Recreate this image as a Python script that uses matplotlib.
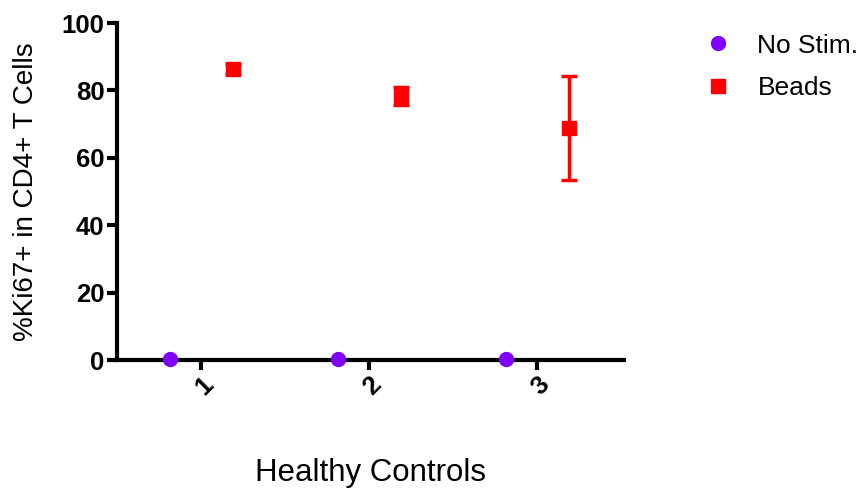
import numpy as np
import matplotlib.pyplot as plt
from matplotlib.lines import Line2D

plt.rcParams['font.family'] = ['Liberation Sans', 'DejaVu Sans']

# группы и значения
groups = [1, 2, 3]
group_labels = ['1', '2', '3']
nostim_mean = [0.3, 0.3, 0.3]
beads_mean = [86.3, 78.3, 68.8]
beads_err = [1.5, 2.6, 15.4]

fig = plt.figure(figsize=(8.63, 4.9), dpi=100)
ax = fig.add_axes([0.1356, 0.265, 0.588, 0.688])

x = np.array(groups, dtype=float)
ax.plot(x - 0.185, nostim_mean, 'o', color='#7f00ff', markersize=10,
        clip_on=False, zorder=4)
ax.errorbar(x + 0.19, beads_mean, yerr=beads_err, fmt='s', color='#ff0000',
            markersize=10, elinewidth=2.5, capsize=6, capthick=2.5,
            clip_on=False, zorder=4)

ax.set_xlim(0.5, 3.52)
ax.set_ylim(0, 100)
ax.set_yticks([0, 20, 40, 60, 80, 100])
ax.set_xticks(groups)
ax.set_xticklabels(group_labels, rotation=45, ha='right', rotation_mode='anchor')

for s in ['top', 'right']:
    ax.spines[s].set_visible(False)
for s in ['left', 'bottom']:
    ax.spines[s].set_linewidth(3)
ax.tick_params(width=3, length=7, labelsize=18.5, pad=2)
for lab in ax.get_xticklabels() + ax.get_yticklabels():
    lab.set_fontweight('bold')

ax.set_ylabel('%Ki67+ in CD4+ T Cells', fontsize=20, labelpad=16)
ax.set_xlabel('Healthy Controls', fontsize=22.5, labelpad=42)

# легенда: только маркеры
handles = [Line2D([], [], ls='none', marker='o', color='#7f00ff', markersize=10),
           Line2D([], [], ls='none', marker='s', color='#ff0000', markersize=10)]
fig.legend(handles, ['No Stim.', 'Beads'], loc='upper left',
           bbox_to_anchor=(0.786, 0.98), frameon=False, fontsize=19,
           handletextpad=0.9, labelspacing=0.7, handlelength=1.2)

fig.savefig('out.png', dpi=100)
